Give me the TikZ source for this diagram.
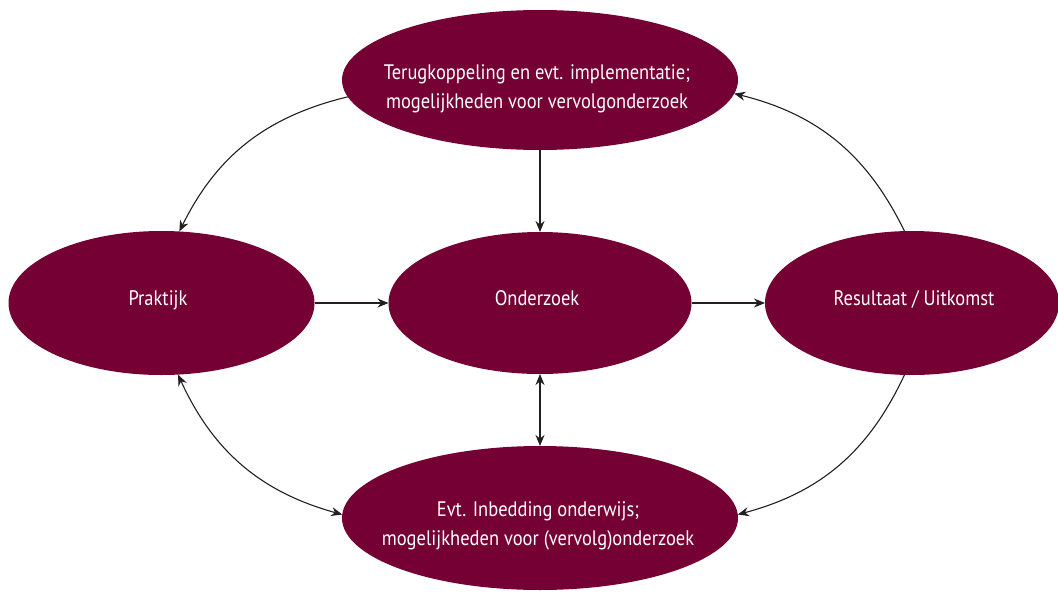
\documentclass[tikz,border=0pt]{standalone}
\usepackage{fontspec}
\setmainfont[FakeStretch=0.88]{PT Sans}
\usetikzlibrary{shapes.geometric,arrows.meta}
\definecolor{wine}{RGB}{117,0,52}
\definecolor{arr}{RGB}{35,31,32}
\begin{document}
\begin{tikzpicture}[x=1pt,y=-1pt,
  ell/.style={ellipse,fill=wine,draw=none,inner sep=0pt,outer sep=0pt},
  txt/.style={text=white,font=\fontsize{21}{29}\selectfont,align=center,inner sep=0pt},
  tip/.tip={Stealth[length=11pt,width=9pt,inset=3.5pt]},
  con/.style={draw=arr,line width=1.1pt,-tip},
  bicon/.style={draw=arr,line width=1.1pt,tip-tip}]
\useasboundingbox (0,0) rectangle (1058,594);
\node[ell,minimum width=396pt,minimum height=140pt] (top) at (540,80) {};
\node[ell,minimum width=306pt,minimum height=144pt] (prak) at (161.5,303) {};
\node[ell,minimum width=303pt,minimum height=142pt] (ond) at (540,303) {};
\node[ell,minimum width=294pt,minimum height=144pt] (res) at (912,303) {};
\node[ell,minimum width=396pt,minimum height=144pt] (bot) at (540,518) {};
\node[txt,anchor=center] (toptxt) at (537,89) {Terugkoppeling en evt. implementatie;\\mogelijkheden voor vervolgonderzoek};
\node[txt,anchor=base] (praktxt) at (158,305) {Praktijk};
\node[txt,anchor=base] (ondtxt) at (537,305) {Onderzoek};
\node[txt,anchor=base] (restxt) at (914,305) {Resultaat / Uitkomst};
\node[txt,anchor=center] (bottxt) at (538,526) {Evt. Inbedding onderwijs;\\mogelijkheden voor (vervolg)onderzoek};
\draw[con] (top.185) to[bend right=25] (prak.76);
\draw[con] (top.south) -- (ond.north);
\draw[con] (prak.east) -- (ond.west);
\draw[con] (ond.east) -- (res.west);
\draw[con] (res.96) to[bend right=25] (top.356);
\draw[con] (res.264) to[bend left=25] (bot.1);
\draw[bicon] (ond.south) -- (bot.north);
\draw[bicon] (prak.283) to[bend right=25] (bot.179);
\end{tikzpicture}
\end{document}
